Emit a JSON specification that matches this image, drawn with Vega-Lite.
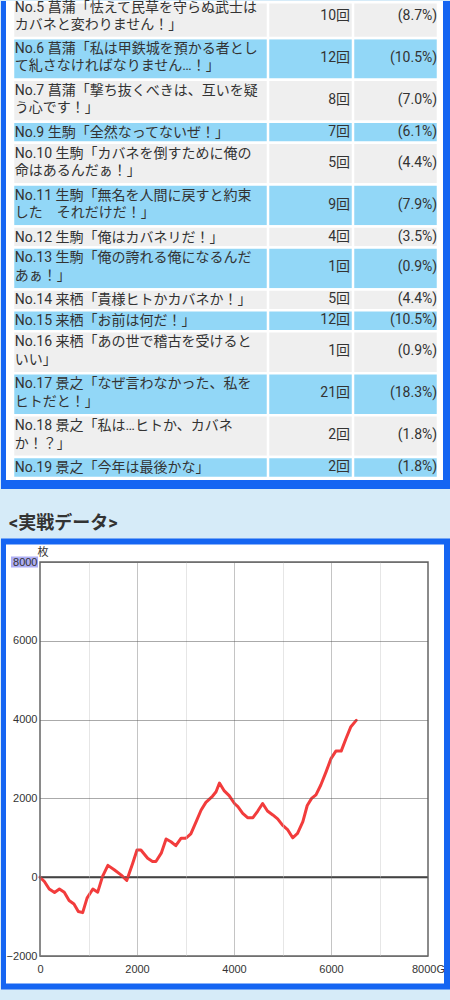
{
  "$schema": "https://vega.github.io/schema/vega-lite/v6.json",
  "background": "#d6ebf8",
  "padding": {"left": 0, "top": 0, "right": 0, "bottom": 12},
  "columns": 1,
  "align": "none",
  "spacing": 0,
  "config": {"view": {"stroke": null}},
  "datasets": {
    "table": [
      {"no": 5, "label": "No.5 菖蒲「怯えて民草を守らぬ武士は\nカバネと変わりません！」", "count": "10回", "pct": "(8.7%)", "lines": 2},
      {"no": 6, "label": "No.6 菖蒲「私は甲鉄城を預かる者とし\nて糺さなければなりません…！」", "count": "12回", "pct": "(10.5%)", "lines": 2},
      {"no": 7, "label": "No.7 菖蒲「撃ち抜くべきは、互いを疑\nう心です！」", "count": "8回", "pct": "(7.0%)", "lines": 2},
      {"no": 9, "label": "No.9 生駒「全然なってないぜ！」", "count": "7回", "pct": "(6.1%)", "lines": 1},
      {"no": 10, "label": "No.10 生駒「カバネを倒すために俺の\n命はあるんだぁ！」", "count": "5回", "pct": "(4.4%)", "lines": 2},
      {"no": 11, "label": "No.11 生駒「無名を人間に戻すと約束\nした　それだけだ！」", "count": "9回", "pct": "(7.9%)", "lines": 2},
      {"no": 12, "label": "No.12 生駒「俺はカバネリだ！」", "count": "4回", "pct": "(3.5%)", "lines": 1},
      {"no": 13, "label": "No.13 生駒「俺の誇れる俺になるんだ\nあぁ！」", "count": "1回", "pct": "(0.9%)", "lines": 2},
      {"no": 14, "label": "No.14 来栖「貴様ヒトかカバネか！」", "count": "5回", "pct": "(4.4%)", "lines": 1},
      {"no": 15, "label": "No.15 来栖「お前は何だ！」", "count": "12回", "pct": "(10.5%)", "lines": 1},
      {"no": 16, "label": "No.16 来栖「あの世で稽古を受けると\nいい」", "count": "1回", "pct": "(0.9%)", "lines": 2},
      {"no": 17, "label": "No.17 景之「なぜ言わなかった、私を\nヒトだと！」", "count": "21回", "pct": "(18.3%)", "lines": 2},
      {"no": 18, "label": "No.18 景之「私は…ヒトか、カバネ\nか！？」", "count": "2回", "pct": "(1.8%)", "lines": 2},
      {"no": 19, "label": "No.19 景之「今年は最後かな」", "count": "2回", "pct": "(1.8%)", "lines": 1}
    ],
    "pnl": [
      {"g": 0, "diff": 0}, {"g": 90, "diff": -110}, {"g": 190, "diff": -300}, {"g": 300, "diff": -390},
      {"g": 400, "diff": -300}, {"g": 500, "diff": -380}, {"g": 600, "diff": -590}, {"g": 700, "diff": -680},
      {"g": 790, "diff": -870}, {"g": 880, "diff": -900}, {"g": 970, "diff": -530}, {"g": 1090, "diff": -300},
      {"g": 1190, "diff": -380}, {"g": 1290, "diff": 20}, {"g": 1400, "diff": 300}, {"g": 1530, "diff": 190},
      {"g": 1670, "diff": 60}, {"g": 1790, "diff": -80}, {"g": 1910, "diff": 350}, {"g": 2000, "diff": 690},
      {"g": 2080, "diff": 690}, {"g": 2220, "diff": 480}, {"g": 2320, "diff": 400}, {"g": 2390, "diff": 400},
      {"g": 2500, "diff": 610}, {"g": 2600, "diff": 970}, {"g": 2700, "diff": 900}, {"g": 2800, "diff": 800},
      {"g": 2910, "diff": 990}, {"g": 3010, "diff": 990}, {"g": 3110, "diff": 1100}, {"g": 3220, "diff": 1410},
      {"g": 3320, "diff": 1700}, {"g": 3420, "diff": 1900}, {"g": 3560, "diff": 2060}, {"g": 3630, "diff": 2170},
      {"g": 3700, "diff": 2390}, {"g": 3800, "diff": 2190}, {"g": 3900, "diff": 2070}, {"g": 4010, "diff": 1870},
      {"g": 4080, "diff": 1790}, {"g": 4180, "diff": 1620}, {"g": 4280, "diff": 1510}, {"g": 4390, "diff": 1510},
      {"g": 4490, "diff": 1680}, {"g": 4590, "diff": 1870}, {"g": 4690, "diff": 1680}, {"g": 4800, "diff": 1580},
      {"g": 4900, "diff": 1480}, {"g": 5000, "diff": 1320}, {"g": 5110, "diff": 1200}, {"g": 5210, "diff": 1000},
      {"g": 5310, "diff": 1110}, {"g": 5420, "diff": 1410}, {"g": 5510, "diff": 1820}, {"g": 5600, "diff": 2000},
      {"g": 5690, "diff": 2090}, {"g": 5790, "diff": 2340}, {"g": 5900, "diff": 2680}, {"g": 6000, "diff": 3010},
      {"g": 6100, "diff": 3200}, {"g": 6210, "diff": 3200}, {"g": 6310, "diff": 3520}, {"g": 6410, "diff": 3820},
      {"g": 6520, "diff": 3980}
    ]
  },
  "concat": [
    {
      "width": 411,
      "height": 537,
      "layer": [
        {
          "data": {"values": [{"part": "frame"}]},
          "mark": {"type": "rect", "fill": "#1565f2"},
          "encoding": {
            "x": {"datum": -0.14118, "type": "quantitative", "scale": {"domain": [0.31765, 5.15294], "nice": false, "zero": false}, "axis": null},
            "x2": {"datum": 5.15294},
            "y": {"datum": 0.23859, "type": "quantitative", "scale": {"domain": [0.23859, 25.8631], "nice": false, "zero": false, "reverse": true}, "axis": null},
            "y2": {"datum": 23.52}
          }
        },
        {
          "data": {"values": [{"part": "panel"}]},
          "mark": {"type": "rect", "fill": "#ffffff"},
          "encoding": {
            "x": {"datum": -0.0824, "type": "quantitative", "scale": {"domain": [0.31765, 5.15294], "nice": false, "zero": false}, "axis": null},
            "x2": {"datum": 5.0588},
            "y": {"datum": 0.23859, "type": "quantitative", "scale": {"domain": [0.23859, 25.8631], "nice": false, "zero": false, "reverse": true}, "axis": null},
            "y2": {"datum": 23.095}
          }
        },
        {
          "data": {"name": "table"},
          "transform": [
            {"window": [{"op": "sum", "field": "lines", "as": "end"}, {"op": "row_number", "as": "rn"}, {"op": "lag", "field": "lines", "param": 1, "as": "prev"}], "sort": [{"field": "no", "order": "ascending"}]},
            {"window": [{"op": "sum", "field": "prev", "as": "start"}], "sort": [{"field": "no", "order": "ascending"}]},
            {"filter": "isValid(datum.start)"}
          ],
          "layer": [
            {
              "mark": {"type": "rect", "stroke": "#ffffff", "strokeWidth": 2.5},
              "encoding": {
                "x": {"datum": 0, "type": "quantitative", "scale": {"domain": [0.31765, 5.15294], "nice": false, "zero": false}, "axis": null},
                "x2": {"datum": 5},
                "y": {"field": "start", "type": "quantitative", "scale": {"domain": [0.23859, 25.8631], "nice": false, "zero": false, "reverse": true}, "axis": null},
                "y2": {"field": "end"},
                "fill": {"condition": {"test": "datum.rn % 2 == 0", "value": "#92d7f7"}, "value": "#efefef"}
              }
            },
            {
              "mark": {"type": "text", "align": "left", "baseline": "middle", "dy": 11, "lineBreak": "\n", "lineHeight": 17.5, "font": "Roboto, Noto Sans CJK JP, sans-serif", "fontSize": 14, "color": "#333333"},
              "encoding": {
                "x": {"datum": 0.02, "type": "quantitative", "scale": {"domain": [0.31765, 5.15294], "nice": false, "zero": false}, "axis": null},
                "y": {"field": "start", "type": "quantitative", "scale": {"domain": [0.23859, 25.8631], "nice": false, "zero": false, "reverse": true}, "axis": null},
                "text": {"field": "label"}
              }
            },
            {
              "transform": [{"filter": "datum.lines == 1"}],
              "layer": [
                {
                  "mark": {"type": "text", "align": "right", "baseline": "middle", "dy": 10, "font": "Roboto, Noto Sans CJK JP, sans-serif", "fontSize": 14, "color": "#333333"},
                  "encoding": {
                    "x": {"datum": 3.965, "type": "quantitative", "scale": {"domain": [0.31765, 5.15294], "nice": false, "zero": false}, "axis": null},
                    "y": {"field": "start", "type": "quantitative", "scale": {"domain": [0.23859, 25.8631], "nice": false, "zero": false, "reverse": true}, "axis": null},
                    "text": {"field": "count"}
                  }
                },
                {
                  "mark": {"type": "text", "align": "right", "baseline": "middle", "dy": 10, "font": "Roboto, Noto Sans CJK JP, sans-serif", "fontSize": 14, "color": "#333333"},
                  "encoding": {
                    "x": {"datum": 4.99, "type": "quantitative", "scale": {"domain": [0.31765, 5.15294], "nice": false, "zero": false}, "axis": null},
                    "y": {"field": "start", "type": "quantitative", "scale": {"domain": [0.23859, 25.8631], "nice": false, "zero": false, "reverse": true}, "axis": null},
                    "text": {"field": "pct"}
                  }
                }
              ]
            },
            {
              "transform": [{"filter": "datum.lines == 2"}],
              "layer": [
                {
                  "mark": {"type": "text", "align": "right", "baseline": "middle", "dy": 20, "font": "Roboto, Noto Sans CJK JP, sans-serif", "fontSize": 14, "color": "#333333"},
                  "encoding": {
                    "x": {"datum": 3.965, "type": "quantitative", "scale": {"domain": [0.31765, 5.15294], "nice": false, "zero": false}, "axis": null},
                    "y": {"field": "start", "type": "quantitative", "scale": {"domain": [0.23859, 25.8631], "nice": false, "zero": false, "reverse": true}, "axis": null},
                    "text": {"field": "count"}
                  }
                },
                {
                  "mark": {"type": "text", "align": "right", "baseline": "middle", "dy": 20, "font": "Roboto, Noto Sans CJK JP, sans-serif", "fontSize": 14, "color": "#333333"},
                  "encoding": {
                    "x": {"datum": 4.99, "type": "quantitative", "scale": {"domain": [0.31765, 5.15294], "nice": false, "zero": false}, "axis": null},
                    "y": {"field": "start", "type": "quantitative", "scale": {"domain": [0.23859, 25.8631], "nice": false, "zero": false, "reverse": true}, "axis": null},
                    "text": {"field": "pct"}
                  }
                }
              ]
            }
          ]
        },
        {
          "data": {"name": "table"},
          "transform": [
            {"window": [{"op": "sum", "field": "lines", "as": "end"}, {"op": "row_number", "as": "rn"}], "sort": [{"field": "no", "order": "ascending"}]},
            {"filter": "datum.rn == 1"}
          ],
          "layer": [
            {
              "mark": {"type": "rect", "stroke": "#ffffff", "strokeWidth": 2.5, "fill": "#efefef"},
              "encoding": {
                "x": {"datum": 0, "type": "quantitative", "scale": {"domain": [0.31765, 5.15294], "nice": false, "zero": false}, "axis": null},
                "x2": {"datum": 5},
                "y": {"field": "end", "type": "quantitative", "scale": {"domain": [0.23859, 25.8631], "nice": false, "zero": false, "reverse": true}, "axis": null},
                "y2": {"datum": 0.3}
              }
            },
            {
              "mark": {"type": "text", "align": "left", "baseline": "middle", "dy": -30, "lineBreak": "\n", "lineHeight": 17.5, "font": "Roboto, Noto Sans CJK JP, sans-serif", "fontSize": 14, "color": "#333333"},
              "encoding": {
                "x": {"datum": 0.02, "type": "quantitative", "scale": {"domain": [0.31765, 5.15294], "nice": false, "zero": false}, "axis": null},
                "y": {"field": "end", "type": "quantitative", "scale": {"domain": [0.23859, 25.8631], "nice": false, "zero": false, "reverse": true}, "axis": null},
                "text": {"field": "label"}
              }
            },
            {
              "mark": {"type": "text", "align": "right", "baseline": "middle", "dy": -22, "font": "Roboto, Noto Sans CJK JP, sans-serif", "fontSize": 14, "color": "#333333"},
              "encoding": {
                "x": {"datum": 3.965, "type": "quantitative", "scale": {"domain": [0.31765, 5.15294], "nice": false, "zero": false}, "axis": null},
                "y": {"field": "end", "type": "quantitative", "scale": {"domain": [0.23859, 25.8631], "nice": false, "zero": false, "reverse": true}, "axis": null},
                "text": {"field": "count"}
              }
            },
            {
              "mark": {"type": "text", "align": "right", "baseline": "middle", "dy": -22, "font": "Roboto, Noto Sans CJK JP, sans-serif", "fontSize": 14, "color": "#333333"},
              "encoding": {
                "x": {"datum": 4.99, "type": "quantitative", "scale": {"domain": [0.31765, 5.15294], "nice": false, "zero": false}, "axis": null},
                "y": {"field": "end", "type": "quantitative", "scale": {"domain": [0.23859, 25.8631], "nice": false, "zero": false, "reverse": true}, "axis": null},
                "text": {"field": "pct"}
              }
            }
          ]
        },
        {
          "data": {"values": [{"part": "sep"}]},
          "mark": {"type": "rect", "fill": "#ffffff"},
          "encoding": {
            "x": {"datum": 2.9853, "type": "quantitative", "scale": {"domain": [0.31765, 5.15294], "nice": false, "zero": false}, "axis": null},
            "x2": {"datum": 3.0147},
            "y": {"datum": 0.23859, "type": "quantitative", "scale": {"domain": [0.23859, 25.8631], "nice": false, "zero": false, "reverse": true}, "axis": null},
            "y2": {"datum": 23}
          }
        },
        {
          "data": {"values": [{"part": "sep"}]},
          "mark": {"type": "rect", "fill": "#ffffff"},
          "encoding": {
            "x": {"datum": 3.9853, "type": "quantitative", "scale": {"domain": [0.31765, 5.15294], "nice": false, "zero": false}, "axis": null},
            "x2": {"datum": 4.0147},
            "y": {"datum": 0.23859, "type": "quantitative", "scale": {"domain": [0.23859, 25.8631], "nice": false, "zero": false, "reverse": true}, "axis": null},
            "y2": {"datum": 23}
          }
        },
        {
          "data": {"values": [{"heading": "<実戦データ>"}]},
          "mark": {"type": "text", "align": "left", "baseline": "middle", "font": "Roboto, Noto Sans CJK JP, sans-serif", "fontSize": 18, "fontWeight": "bold", "color": "#333333"},
          "encoding": {
            "x": {"datum": -0.047, "type": "quantitative", "scale": {"domain": [0.31765, 5.15294], "nice": false, "zero": false}, "axis": null},
            "y": {"datum": 25.195, "type": "quantitative", "scale": {"domain": [0.23859, 25.8631], "nice": false, "zero": false, "reverse": true}, "axis": null},
            "text": {"field": "heading"}
          }
        }
      ]
    },
    {
      "width": 388,
      "height": 394,
      "layer": [
        {
          "data": {"values": [{"part": "frame"}]},
          "mark": {"type": "rect", "fill": "#1565f2"},
          "encoding": {
            "x": {"datum": -804.1, "type": "quantitative", "scale": {"domain": [0, 8000], "nice": false, "zero": false}},
            "x2": {"datum": 8474.2},
            "y": {"datum": -2850, "type": "quantitative", "scale": {"domain": [-2000, 8000], "nice": false, "zero": false}},
            "y2": {"datum": 8596.4}
          }
        },
        {
          "data": {"values": [{"part": "panel"}]},
          "mark": {"type": "rect", "fill": "#ffffff"},
          "encoding": {
            "x": {"datum": -701, "type": "quantitative", "scale": {"domain": [0, 8000], "nice": false, "zero": false}},
            "x2": {"datum": 8330},
            "y": {"datum": -2698, "type": "quantitative", "scale": {"domain": [-2000, 8000], "nice": false, "zero": false}},
            "y2": {"datum": 8444}
          }
        },
        {
          "data": {"values": [{"part": "highlight"}]},
          "mark": {"type": "rect", "fill": "#aeaef5"},
          "encoding": {
            "x": {"datum": -598, "type": "quantitative", "scale": {"domain": [0, 8000], "nice": false, "zero": false}},
            "x2": {"datum": -41},
            "y": {"datum": 7860, "type": "quantitative", "scale": {"domain": [-2000, 8000], "nice": false, "zero": false}},
            "y2": {"datum": 8140}
          }
        },
        {
          "data": {"values": [{"part": "zero"}]},
          "mark": {"type": "rule", "color": "#333333", "strokeWidth": 2},
          "encoding": {
            "x": {"datum": 0, "type": "quantitative", "scale": {"domain": [0, 8000], "nice": false, "zero": false}},
            "x2": {"datum": 8000},
            "y": {"datum": 0, "type": "quantitative", "scale": {"domain": [-2000, 8000], "nice": false, "zero": false}}
          }
        },
        {
          "data": {"name": "pnl"},
          "mark": {"type": "line", "color": "#f23c3c", "strokeWidth": 3, "strokeJoin": "round", "strokeCap": "round"},
          "encoding": {
            "x": {"field": "g", "type": "quantitative", "scale": {"domain": [0, 8000], "nice": false, "zero": false},
              "axis": {"values": [0, 1000, 2000, 3000, 4000, 5000, 6000, 7000, 8000], "format": "d",
                "labelExpr": "datum.value % 2000 == 0 ? (datum.value == 8000 ? '8000G' : datum.label) : ''",
                "grid": true, "gridColor": {"condition": {"test": "datum.value % 2000 == 0", "value": "#888888"}, "value": "#cccccc"},
                "gridDash": [1, 1], "gridWidth": 1, "domain": false, "ticks": false, "tickSize": 0, "labelPadding": 7,
                "labelFont": "Liberation Sans", "labelFontSize": 11, "labelColor": "#333333", "labelFlush": false, "labelOverlap": false,
                "title": null, "zindex": 1}},
            "y": {"field": "diff", "type": "quantitative", "scale": {"domain": [-2000, 8000], "nice": false, "zero": false},
              "axis": {"values": [-2000, -1000, 0, 1000, 2000, 3000, 4000, 5000, 6000, 7000, 8000], "format": "d",
                "labelExpr": "datum.value % 2000 == 0 ? datum.label : ''",
                "grid": true, "gridColor": {"condition": {"test": "datum.value % 2000 == 0", "value": "#555555"}, "value": "#cccccc"},
                "gridDash": [1, 1], "gridWidth": 1, "domain": false, "ticks": false, "tickSize": 0, "labelPadding": 3,
                "labelFont": "Liberation Sans", "labelFontSize": 11, "labelColor": "#333333", "labelFlush": false, "labelOverlap": false,
                "title": null, "zindex": 1}}
          }
        },
        {
          "data": {"values": [{"part": "plotframe"}]},
          "mark": {"type": "rect", "fill": "transparent", "stroke": "#666666", "strokeWidth": 1.5},
          "encoding": {
            "x": {"datum": 0, "type": "quantitative", "scale": {"domain": [0, 8000], "nice": false, "zero": false}},
            "x2": {"datum": 8000},
            "y": {"datum": -2000, "type": "quantitative", "scale": {"domain": [-2000, 8000], "nice": false, "zero": false}},
            "y2": {"datum": 8000}
          }
        },
        {
          "data": {"values": [{"unit": "枚"}]},
          "mark": {"type": "text", "align": "center", "baseline": "middle", "font": "Noto Sans CJK JP, sans-serif", "fontSize": 11, "color": "#333333"},
          "encoding": {
            "x": {"datum": 62, "type": "quantitative", "scale": {"domain": [0, 8000], "nice": false, "zero": false}},
            "y": {"datum": 8216, "type": "quantitative", "scale": {"domain": [-2000, 8000], "nice": false, "zero": false}},
            "text": {"field": "unit"}
          }
        }
      ]
    }
  ]
}
